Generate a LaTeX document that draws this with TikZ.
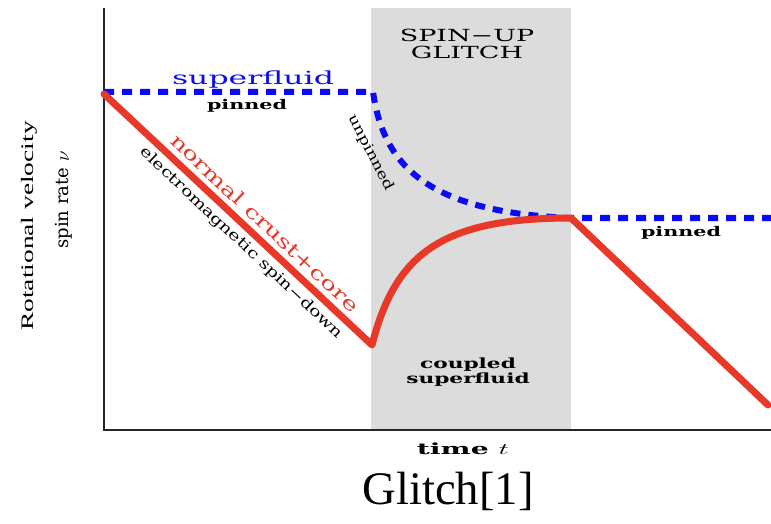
\documentclass[tikz,border=0pt]{standalone}
\usepackage{fontspec}
\setmainfont{Liberation Serif}
\newfontfamily\plotfont{DejaVu Serif}

\definecolor{crustred}{RGB}{232,56,40}
\definecolor{fluidblue}{RGB}{10,10,245}
\definecolor{glitchgray}{RGB}{220,220,220}

\begin{document}
\begin{tikzpicture}[x=0.75pt,y=-0.75pt,
    lab/.style={font=\plotfont, inner sep=0pt},
    crust/.style={crustred, line width=5.25pt, line join=round, line cap=round},
    fluid/.style={fluidblue, line width=4.5pt, dash pattern=on 7.5pt off 6pt}]
    \useasboundingbox (0,0) rectangle (771,524);
    %the glitch window
    \fill[glitchgray] (371,8) rectangle (571,430);
    %axes
    \draw[line width=1.5pt, black!85] (104,8) -- (104,430) -- (771,430);
    %points of the two curves
    \coordinate (top) at (104,94);
    \coordinate (dip) at (372,345);
    \coordinate (peak) at (571,218);
    \coordinate (tail) at (768,405);
    \coordinate (sf0) at (104,92);
    \coordinate (sf1) at (373,92);
    \coordinate (sf2) at (571,218);
    \coordinate (sf3) at (771,218);
    \draw[fluid] (sf0) -- (sf1) .. controls (383,160) and (420,212) .. (sf2) -- (sf3);
    \draw[crust] (top) -- (dip) .. controls (395,255) and (440,218) .. (peak) -- (tail);
    %labels
    \node[lab, fluidblue, xscale=1.75, font=\plotfont\fontsize{13.5}{15}\selectfont] (sfl) at (253,80) {superfluid};
    \node[lab, xscale=1.55, font=\plotfont\bfseries\fontsize{10}{11}\selectfont] (pin1) at (247,106) {pinned};
    \node[lab, xscale=1.55, font=\plotfont\bfseries\fontsize{10}{11}\selectfont] (pin2) at (681,233) {pinned};
    \node[lab, rotate=-63, xscale=1.25, font=\plotfont\fontsize{10.5}{12}\selectfont] (unp) at (371,153) {unpinned};
    \node[lab, crustred, rotate=-43.2, xscale=1.4, font=\plotfont\fontsize{14}{16}\selectfont] (ncc) at (265,223) {normal crust+core};
    \node[lab, rotate=-43.2, xscale=1.3, font=\plotfont\fontsize{11}{13}\selectfont] (ems) at (241,243) {electromagnetic spin−down};
    \node[lab, align=center, xscale=1.62, font=\plotfont\fontsize{12.5}{12.5}\selectfont] (glt) at (467,44) {SPIN−UP\\GLITCH};
    \node[lab, align=center, xscale=1.55, font=\plotfont\bfseries\fontsize{10.5}{7.5}\selectfont] (cpl) at (468,372) {coupled\\superfluid};
    \node[lab, xscale=1.85, font=\plotfont\bfseries\fontsize{11.5}{12}\selectfont] (tme) at (463,449) {time $t$};
    \node[lab, rotate=90, font=\plotfont\fontsize{13.5}{15}\selectfont] (spr) at (64,200) {spin rate $\nu$};
    \node[lab, rotate=90, xscale=1.56, font=\fontsize{13.2}{15}\selectfont] (rvl) at (29,226) {Rotational velocity};
    \node[lab, font=\fontsize{35}{40}\selectfont] (cap) at (448,491) {Glitch[1]};
\end{tikzpicture}
\end{document}
